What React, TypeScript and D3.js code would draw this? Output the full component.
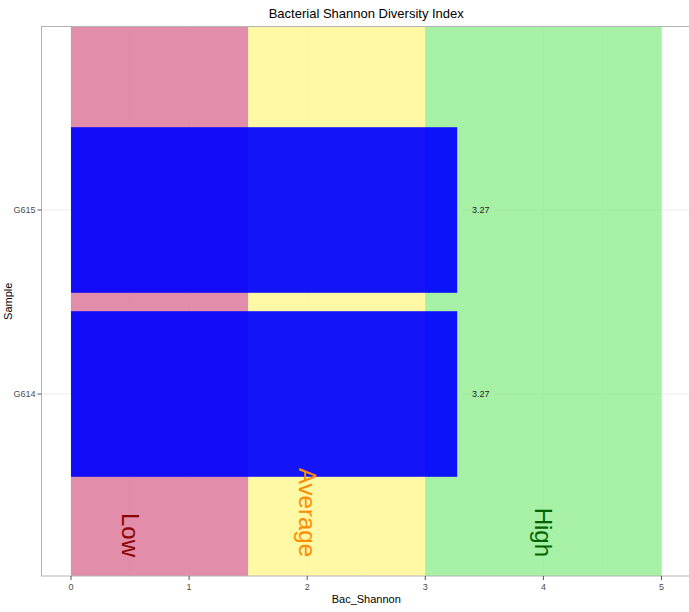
import React from "react";
import * as d3 from "d3";

const samples = ["G614", "G615"];
const shannon = [3.27, 3.27];
const valueLabels = ["3.27", "3.27"];
const xTicks = [0, 1, 2, 3, 4, 5];
const xMinor = [0.5, 1.5, 2.5, 3.5, 4.5];
const zoneNames = ["Low", "Average", "High"];
const zoneStart = [0, 1.5, 3];
const zoneEnd = [1.5, 3, 5];
const zoneLabelX = [0.5, 2, 4];
const zoneFill = ["#db7093", "#fff68f", "#90ee90"];
const zoneText = ["#8b0000", "#ff8c00", "#006400"];

const W = 689;
const H = 612;
const panelL = 41.5;
const panelR = 691;
const panelT = 26.5;
const panelB = 576;

export default function App() {
  const x = d3.scaleLinear().domain([-0.25, 5.25]).range([panelL, panelR]);
  const y = d3.scaleLinear().domain([1, 2]).range([394, 210]);
  const barH = 0.9 * (y(1) - y(2));
  const font = "'Liberation Sans', Arial, sans-serif";
  return (
    <svg width={W} height={H} style={{ position: "absolute", left: 0, top: 0, fontFamily: font }}>
      <rect x={0} y={0} width={W} height={H} fill="#fff" />
      <defs>
        <clipPath id="panel">
          <rect x={panelL} y={panelT} width={panelR - panelL} height={panelB - panelT} />
        </clipPath>
      </defs>
      <g clipPath="url(#panel)">
        {xMinor.map((t) => (
          <line key={"mn" + t} x1={x(t)} x2={x(t)} y1={panelT} y2={panelB} stroke="#ebebeb" strokeWidth={0.5} />
        ))}
        {xTicks.map((t) => (
          <line key={"mj" + t} x1={x(t)} x2={x(t)} y1={panelT} y2={panelB} stroke="#ebebeb" strokeWidth={1} />
        ))}
        {samples.map((s, i) => (
          <line key={"hg" + s} x1={panelL} x2={panelR} y1={y(i + 1)} y2={y(i + 1)} stroke="#ebebeb" strokeWidth={1} />
        ))}
        {zoneNames.map((z, i) => (
          <rect
            key={z}
            x={x(zoneStart[i])}
            width={x(zoneEnd[i]) - x(zoneStart[i])}
            y={panelT}
            height={panelB - panelT}
            fill={zoneFill[i]}
            fillOpacity={0.8}
          />
        ))}
        {samples.map((s, i) => (
          <rect
            key={"bar" + s}
            x={x(0)}
            width={x(shannon[i]) - x(0)}
            y={y(i + 1) - barH / 2}
            height={barH}
            fill="#0000ff"
            fillOpacity={0.92}
          />
        ))}
        {samples.map((s, i) => (
          <text
            key={"lab" + s}
            x={x(shannon[i] + 0.2)}
            y={y(i + 1)}
            dy="0.35em"
            textAnchor="middle"
            fontSize={9}
            fill="#222"
          >
            {valueLabels[i]}
          </text>
        ))}
        {zoneNames.map((z, i) => (
          <text
            key={"zt" + z}
            transform={`translate(${x(zoneLabelX[i])},557) rotate(90)`}
            textAnchor="end"
            dy="0.35em"
            fontSize={24}
            fill={zoneText[i]}
          >
            {z}
          </text>
        ))}
      </g>
      <rect
        x={panelL}
        y={panelT}
        width={panelR - panelL}
        height={panelB - panelT}
        fill="none"
        stroke="#b3b3b3"
        strokeWidth={1}
      />
      {xTicks.map((t) => (
        <g key={"xt" + t}>
          <line x1={x(t)} x2={x(t)} y1={panelB} y2={panelB + 4} stroke="#555" strokeWidth={1} />
          <text x={x(t)} y={panelB + 14} textAnchor="middle" fontSize={9} fill="#4d4d4d">
            {t}
          </text>
        </g>
      ))}
      {samples.map((s, i) => (
        <g key={"yt" + s}>
          <line x1={panelL - 4} x2={panelL} y1={y(i + 1)} y2={y(i + 1)} stroke="#555" strokeWidth={1} />
          <text x={panelL - 6} y={y(i + 1)} dy="0.35em" textAnchor="end" fontSize={9} fill="#4d4d4d">
            {s}
          </text>
        </g>
      ))}
      <text x={(panelL + panelR) / 2} y={603} textAnchor="middle" fontSize={11} fill="#000">
        Bac_Shannon
      </text>
      <text
        transform={`translate(12,${(panelT + panelB) / 2}) rotate(-90)`}
        textAnchor="middle"
        fontSize={11}
        fill="#000"
      >
        Sample
      </text>
      <text x={(panelL + panelR) / 2} y={18} textAnchor="middle" fontSize={13} fill="#000">
        Bacterial Shannon Diversity Index
      </text>
    </svg>
  );
}
